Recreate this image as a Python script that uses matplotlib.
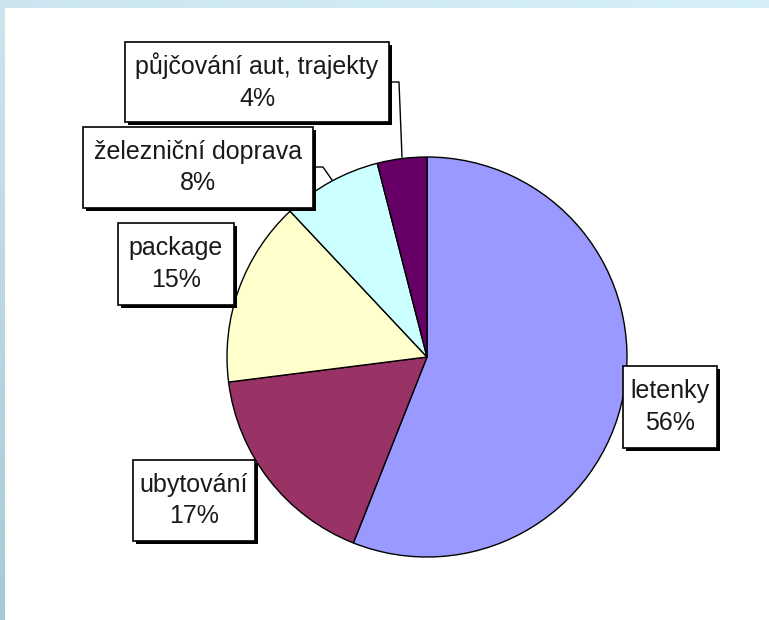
import matplotlib.pyplot as plt
import numpy as np
from matplotlib.patches import Rectangle

labels = ['letenky', 'ubytování', 'package', 'železniční doprava', 'půjčování aut, trajekty']
values = [56, 17, 15, 8, 4]
colors = ['#9999FF', '#993366', '#FFFFCC', '#CCFFFF', '#660066']

# label boxes in pixels: left, top, right, bottom
boxes = [(623, 366, 717, 448), (133, 460, 255, 541), (118, 223, 234, 305),
         (83, 127, 313, 208), (125, 42, 389, 122)]
# leader lines (pixels) for the small slices
leaders = {3: [(313, 167), (323, 167), (332, 180)],
           4: [(389, 82), (399, 82), (402, 157)]}

W, H = 769, 620
plt.rcParams['font.family'] = ['Liberation Sans', 'DejaVu Sans']

fig = plt.figure(figsize=(W / 100, H / 100), dpi=100)

# light blue frame behind the white panel
bg = fig.add_axes([0, 0, 1, 1])
grad = np.linspace(0, 1, 256)
gx, gy = np.meshgrid(grad, grad)
top = np.array([0.80, 0.90, 0.94])
bot = np.array([0.66, 0.79, 0.83])
img = top[None, None, :] * (1 - gy[..., None]) + bot[None, None, :] * gy[..., None]
img = img + 0.04 * gx[..., None]
bg.imshow(np.clip(img, 0, 1), extent=[0, 1, 0, 1], aspect='auto')
bg.axis('off')

ax = fig.add_axes([0, 0, 1, 1])
ax.add_patch(Rectangle((5, 0), W - 5, H - 8, facecolor='white', edgecolor='none', zorder=0))


def fy(y):
    return H - y


ax.pie(values, colors=colors, startangle=90, counterclock=False,
       center=(427, fy(357)), radius=200, frame=True,
       wedgeprops=dict(edgecolor='black', linewidth=1))
ax.set_xlim(0, W)
ax.set_ylim(0, H)
ax.set_aspect('auto')
ax.axis('off')

for i, pts in leaders.items():
    xs = [p[0] for p in pts]
    ys = [fy(p[1]) for p in pts]
    ax.plot(xs, ys, color='black', lw=1, zorder=3)

for i, (lab, val) in enumerate(zip(labels, values)):
    x0, y0, x1, y1 = boxes[i]
    ax.add_patch(Rectangle((x0 + 3, fy(y1) - 3), x1 - x0, y1 - y0,
                           facecolor='black', edgecolor='none', zorder=4))
    ax.add_patch(Rectangle((x0, fy(y1)), x1 - x0, y1 - y0,
                           facecolor='white', edgecolor='black', lw=1.2, zorder=5))
    ax.text((x0 + x1) / 2, fy((y0 + y1) / 2), f'{lab}\n{val}%', ha='center', va='center',
            fontsize=18, color='#1a1a1a', linespacing=1.42, zorder=6)

fig.savefig('out.png', dpi=100)
